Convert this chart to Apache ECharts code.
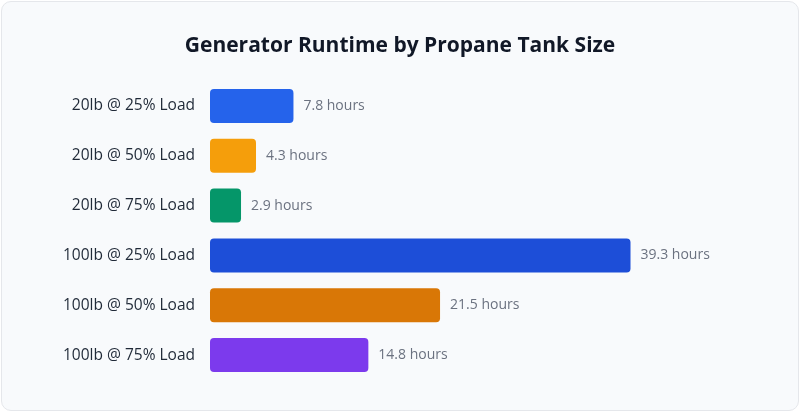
<!DOCTYPE html>
<html><head><meta charset="utf-8">
<script src="https://cdn.jsdelivr.net/npm/echarts@6/dist/echarts.min.js"></script>
<style>html,body{margin:0;padding:0;background:#fff}
#wrap{position:absolute;left:1px;top:1px;width:796px;height:408px;border:1px solid #e5e7eb;border-radius:10px;background:#f8fafc;overflow:hidden}
#c{width:796px;height:408px}</style></head>
<body><div id="wrap"><div id="c"></div></div>
<script>
const categories = ['20lb @ 25% Load','20lb @ 50% Load','20lb @ 75% Load','100lb @ 25% Load','100lb @ 50% Load','100lb @ 75% Load'];
const values = [7.8, 4.3, 2.9, 39.3, 21.5, 14.8];
const colors = ['#2563eb','#f59e0b','#059669','#1d4ed8','#d97706','#7c3aed'];
const chart = echarts.init(document.getElementById('c'));
chart.setOption({
  title:{text:'Generator Runtime by Propane Tank Size',left:'center',top:29,textStyle:{fontFamily:'Open Sans',fontSize:21,fontWeight:'bold',color:'#111827'}},
  grid:{left:208,right:53,top:79,bottom:30},
  xAxis:{type:'value',min:0,max:50,show:false},
  yAxis:{type:'category',data:categories,inverse:true,axisLine:{show:false},axisTick:{show:false},
    axisLabel:{fontFamily:'Open Sans',fontSize:15.5,color:'#1f2937',margin:15}},
  series:[{type:'bar',barWidth:34,
    data:values.map((v,i)=>({value:v,itemStyle:{color:colors[i],borderRadius:4}})),
    label:{show:true,position:'right',distance:10,formatter:p=>p.value+' hours',fontFamily:'Open Sans',fontSize:14,color:'#6b7280'}}]
});
</script></body></html>
